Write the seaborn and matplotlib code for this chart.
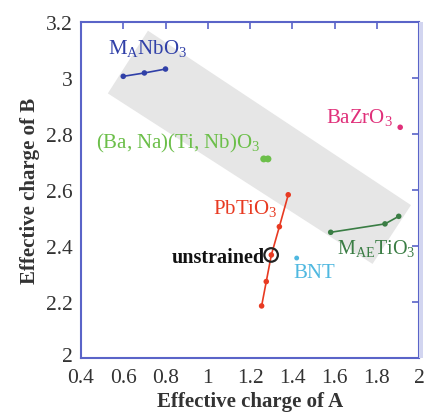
import matplotlib
matplotlib.use("Agg")
import matplotlib.pyplot as plt
import matplotlib.transforms as mtransforms
import seaborn as sns
import pandas as pd
from matplotlib.patches import Polygon, Rectangle

sns.set_theme(style="white")
plt.rcParams['font.family'] = ['Liberation Serif', 'DejaVu Serif']
plt.rcParams['mathtext.fontset'] = 'custom'
plt.rcParams['mathtext.rm'] = 'Liberation Serif'
plt.rcParams['mathtext.it'] = 'Liberation Serif:italic'

# ---- data ----
mnbo3_x = [0.60, 0.70, 0.80]
mnbo3_y = [3.006, 3.018, 3.032]

pbtio3_x = [1.255, 1.277, 1.301, 1.339, 1.381]
pbtio3_y = [2.186, 2.273, 2.368, 2.469, 2.583]

maetio3_x = [1.582, 1.839, 1.904]
maetio3_y = [2.449, 2.479, 2.506]

bazro3_x = [1.911]
bazro3_y = [2.824]

bnnt_x = [1.265, 1.285]
bnnt_y = [2.711, 2.711]

bnt_x = [1.421]
bnt_y = [2.357]

unstrained_x = [1.30]
unstrained_y = [2.368]

band_x = [0.717, 1.962, 1.780, 0.527]
band_y = [3.169, 2.546, 2.336, 2.945]

x_ticks = [0.4, 0.6, 0.8, 1.0, 1.2, 1.4, 1.6, 1.8, 2.0]
x_ticklabels = ["0.4", "0.6", "0.8", "1", "1.2", "1.4", "1.6", "1.8", "2"]
y_ticks = [2.0, 2.2, 2.4, 2.6, 2.8, 3.0, 3.2]
y_ticklabels = ["2", "2.2", "2.4", "2.6", "2.8", "3", "3.2"]

c_blue = "#3040a8"
c_red = "#e83a22"
c_green_dark = "#3a7d44"
c_green_light = "#6cbf4a"
c_pink = "#e0307a"
c_cyan = "#4fb8e0"
frame = "#5a64c8"

fig = plt.figure(figsize=(4.27, 4.14), dpi=100)
ax = fig.add_axes([81/427, 1-359/414, (419-81)/427, (359-23)/414])

ax.add_patch(Polygon(list(zip(band_x, band_y)), closed=True,
                     facecolor="#e6e6e6", edgecolor="none", zorder=0))

def series(x, y, color, line=True, ms=4):
    df = pd.DataFrame({"x": x, "y": y})
    if line:
        sns.lineplot(data=df, x="x", y="y", ax=ax, color=color, lw=1.2,
                     sort=False, estimator=None, zorder=2)
    sns.scatterplot(data=df, x="x", y="y", ax=ax, color=color, s=ms**2,
                    edgecolor="none", zorder=3)

series(mnbo3_x, mnbo3_y, c_blue)
series(pbtio3_x, pbtio3_y, c_red)
series(maetio3_x, maetio3_y, c_green_dark)
series(bazro3_x, bazro3_y, c_pink, line=False)
series(bnnt_x, bnnt_y, c_green_light, line=False, ms=5)
series(bnt_x, bnt_y, c_cyan, line=False, ms=3.5)
ax.scatter(unstrained_x, unstrained_y, s=95, facecolor="none",
           edgecolor="#222222", linewidth=1.6, zorder=4)

fs = 15
ax.text(0.528, 3.11, r"M$_{\mathrm{A}}$NbO$_3$", color=c_blue, fontsize=fs, va="center", ha="left")
ax.text(1.559, 2.864, r"BaZrO$_3$", color=c_pink, fontsize=fs, va="center", ha="left")
ax.text(0.471, 2.771, r"(Ba, Na)(Ti, Nb)O$_3$", color=c_green_light, fontsize=fs, va="center", ha="left")
ax.text(1.027, 2.539, r"PbTiO$_3$", color=c_red, fontsize=fs, va="center", ha="left")
ax.text(1.27, 2.362, "unstrained", color="#111111", fontsize=fs-0.5, fontweight="bold",
        va="center", ha="right")
ax.text(1.403, 2.305, "BNT", color=c_cyan, fontsize=fs, va="center", ha="left")
ax.text(1.612, 2.396, r"M$_{\mathrm{AE}}$TiO$_3$", color=c_green_dark, fontsize=fs-0.5, va="center", ha="left")

ax.set_xlim(0.4, 2.0)
ax.set_ylim(2.0, 3.2)
ax.set_xticks(x_ticks)
ax.set_xticklabels(x_ticklabels)
ax.set_yticks(y_ticks)
ax.set_yticklabels(y_ticklabels)
ax.tick_params(direction="in", length=5, width=1.2, color=frame, top=True, right=True,
               labelsize=15.5, labelcolor="#333333")
ax.tick_params(axis="x", pad=7)
ax.tick_params(axis="y", pad=6)
for s in ax.spines.values():
    s.set_color(frame)
    s.set_linewidth(1.5)
ax.add_patch(Rectangle((1.0, 0.0), 0.011, 1.0, transform=ax.transAxes,
                       facecolor="#d2d5f0", edgecolor="none", clip_on=False, zorder=5))

# nudge the lowest y tick label up slightly so it clears the "0.4" label
lab0 = ax.get_yticklabels()[0]
lab0.set_transform(lab0.get_transform() +
                   mtransforms.ScaledTranslation(0, 3/72, fig.dpi_scale_trans))

ax.set_xlabel("Effective charge of A", fontsize=15, fontweight="bold", color="#333333", labelpad=3)
ax.set_ylabel("Effective charge of B", fontsize=15, fontweight="bold", color="#333333", labelpad=4)

fig.savefig("out.png", dpi=100)
